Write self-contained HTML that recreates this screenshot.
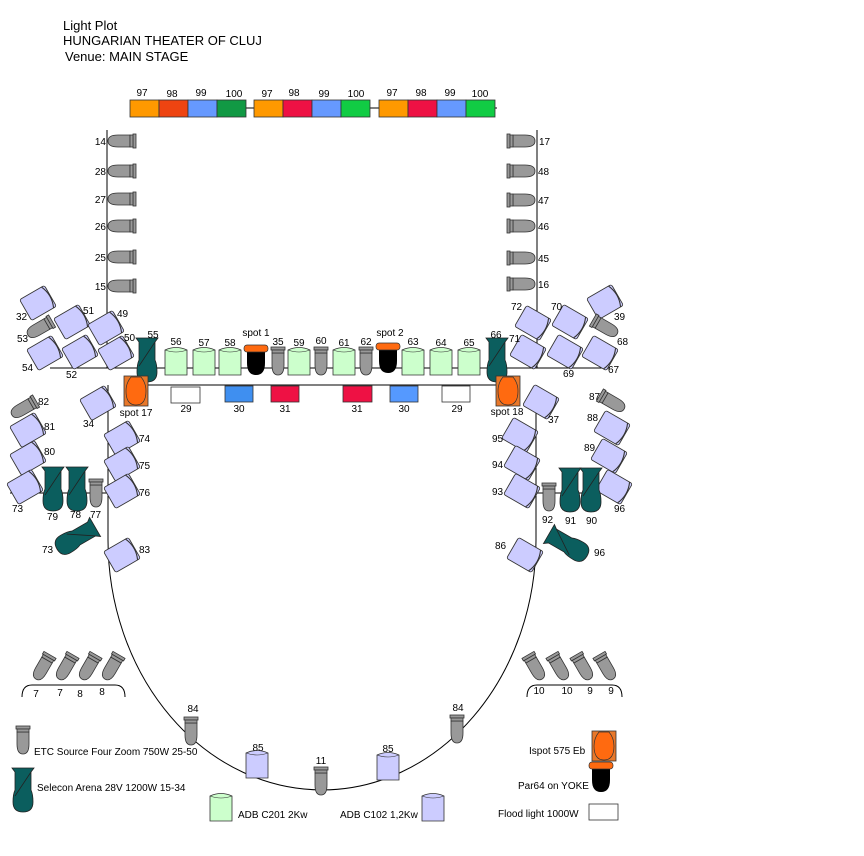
<!DOCTYPE html>
<html><head><meta charset="utf-8"><style>
html,body{margin:0;padding:0;background:#fff;width:864px;height:856px;overflow:hidden}
svg{display:block}
text{font-family:"Liberation Sans",sans-serif;font-size:10px;fill:#000}
</style></head><body>
<svg width="864" height="856" viewBox="0 0 864 856" xmlns="http://www.w3.org/2000/svg">
<defs>
<g id="s4"><path d="M-6,-8 L6,-8 L6,4 Q6,14 0,14 Q-6,14 -6,4 Z" fill="#999" stroke="#333" stroke-width="0.8"/><rect x="-7" y="-14" width="14" height="3" fill="#999" stroke="#333" stroke-width="0.8"/><rect x="-6" y="-11" width="12" height="3" fill="#999" stroke="#333" stroke-width="0.8"/></g>
<g id="arena"><path d="M-11,-22 L11,-22 L8,-18 L8,0 Q10,4 10,12 Q10,22 0,22 Q-10,22 -10,12 Q-10,4 -8,0 L-8,-18 Z" fill="#0b5e5e" stroke="#222" stroke-width="0.8"/><line x1="-8" y1="6" x2="8" y2="-18" stroke="#222" stroke-width="0.8"/></g>
<g id="grn"><path d="M-11,-11 Q0,-16 11,-11 L11,14 L-11,14 Z" fill="#ccffcc" stroke="#333" stroke-width="0.8"/><path d="M-11,-11 Q0,-7 11,-11" fill="none" stroke="#333" stroke-width="0.6"/></g>
<g id="lav"><g transform="scale(1.1)"><rect x="-13" y="-11" width="26" height="22" rx="2" fill="#ccccff" stroke="#333" stroke-width="0.8"/><path d="M10,-11 Q15,0 10,11" fill="none" stroke="#333" stroke-width="1"/></g></g>
<g id="lavc"><path d="M-11,-11 Q0,-16 11,-11 L11,14 L-11,14 Z" fill="#ccccff" stroke="#333" stroke-width="0.8"/><path d="M-11,-11 Q0,-7 11,-11" fill="none" stroke="#333" stroke-width="0.6"/></g>
<g id="spot"><rect x="-12" y="-15" width="24" height="30" fill="#e8782a" stroke="#333" stroke-width="0.8"/><path d="M-5,-14 L5,-14 Q10,-8 10,0 Q10,14 0,14 Q-10,14 -10,0 Q-10,-8 -5,-14Z" fill="#ff6a10" stroke="#333" stroke-width="0.7"/></g>
<g id="par"><path d="M-9,-6 L9,-6 L9,6 Q9,18 0,18 Q-9,18 -9,6Z" fill="#000"/><rect x="-12" y="-12" width="24" height="7" rx="3" fill="#ff6a10" stroke="#333" stroke-width="0.7"/></g>
</defs>

<text x="63" y="30" style="font-size:13px">Light Plot</text>
<text x="63" y="45" style="font-size:13px">HUNGARIAN THEATER OF CLUJ</text>
<text x="65" y="61" style="font-size:13px">Venue: MAIN STAGE</text>

<g stroke="#000" stroke-width="1" fill="none">
<line x1="130" y1="108" x2="497" y2="108"/>
<line x1="107" y1="130" x2="107" y2="368"/>
<line x1="537" y1="130" x2="537" y2="368"/>
<line x1="50" y1="368" x2="610" y2="368"/>
<line x1="140" y1="385" x2="505" y2="385"/>
<line x1="108" y1="385" x2="108" y2="540"/>
<line x1="536" y1="385" x2="536" y2="540"/>
<line x1="10" y1="493" x2="108" y2="493"/>
<line x1="536" y1="493" x2="620" y2="493"/>
<path d="M108,540 A214,250 0 0 0 536,540"/>
<path d="M22,697 Q22,685 32,685 L115,685 Q125,685 125,697"/>
<path d="M527,697 Q527,685 537,685 L612,685 Q622,685 622,697"/>
</g>

<g stroke="#333" stroke-width="0.8">
<rect x="130" y="100" width="29" height="17" fill="#ff9900"/>
<rect x="159" y="100" width="29" height="17" fill="#ee4411"/>
<rect x="188" y="100" width="29" height="17" fill="#6699ff"/>
<rect x="217" y="100" width="29" height="17" fill="#119944"/>
<rect x="254" y="100" width="29" height="17" fill="#ff9900"/>
<rect x="283" y="100" width="29" height="17" fill="#ee1144"/>
<rect x="312" y="100" width="29" height="17" fill="#6699ff"/>
<rect x="341" y="100" width="29" height="17" fill="#11cc44"/>
<rect x="379" y="100" width="29" height="17" fill="#ff9900"/>
<rect x="408" y="100" width="29" height="17" fill="#ee1144"/>
<rect x="437" y="100" width="29" height="17" fill="#6699ff"/>
<rect x="466" y="100" width="29" height="17" fill="#11cc44"/>
</g>
<g text-anchor="middle">
<text x="142" y="96">97</text><text x="172" y="97">98</text><text x="201" y="96">99</text><text x="234" y="97">100</text>
<text x="267" y="97">97</text><text x="294" y="96">98</text><text x="324" y="97">99</text><text x="356" y="97">100</text>
<text x="392" y="96">97</text><text x="421" y="96">98</text><text x="450" y="96">99</text><text x="480" y="97">100</text>
</g>

<g>
<use href="#s4" transform="translate(122,141) rotate(90)"/>
<use href="#s4" transform="translate(122,171) rotate(90)"/>
<use href="#s4" transform="translate(122,199) rotate(90)"/>
<use href="#s4" transform="translate(122,226) rotate(90)"/>
<use href="#s4" transform="translate(122,257) rotate(90)"/>
<use href="#s4" transform="translate(122,286) rotate(90)"/>
<use href="#s4" transform="translate(521,141) rotate(-90)"/>
<use href="#s4" transform="translate(521,171) rotate(-90)"/>
<use href="#s4" transform="translate(521,200) rotate(-90)"/>
<use href="#s4" transform="translate(521,226) rotate(-90)"/>
<use href="#s4" transform="translate(521,258) rotate(-90)"/>
<use href="#s4" transform="translate(521,284) rotate(-90)"/>
</g>
<g text-anchor="end">
<text x="106" y="145">14</text><text x="106" y="175">28</text><text x="106" y="203">27</text><text x="106" y="230">26</text><text x="106" y="261">25</text><text x="106" y="290">15</text>
</g>
<g>
<text x="539" y="145">17</text><text x="538" y="175">48</text><text x="538" y="204">47</text><text x="538" y="230">46</text><text x="538" y="262">45</text><text x="538" y="288">16</text>
</g>

<use href="#lav" transform="translate(38,303) rotate(-30)"/>
<use href="#lav" transform="translate(72,322) rotate(-30)"/>
<use href="#lav" transform="translate(106,328) rotate(-30)"/>
<use href="#s4" transform="translate(40,328) rotate(60)"/>
<use href="#lav" transform="translate(45,353) rotate(-30)"/>
<use href="#lav" transform="translate(80,352) rotate(-30)"/>
<use href="#lav" transform="translate(116,353) rotate(-30)"/>
<use href="#lav" transform="translate(98,403) rotate(-30)"/>
<use href="#s4" transform="translate(24,408) rotate(60)"/>
<use href="#lav" transform="translate(28,430) rotate(-30)"/>
<use href="#lav" transform="translate(28,458) rotate(-30)"/>
<use href="#lav" transform="translate(25,487) rotate(-30)"/>
<use href="#lav" transform="translate(122,438) rotate(-30)"/>
<use href="#lav" transform="translate(122,464) rotate(-30)"/>
<use href="#lav" transform="translate(122,491) rotate(-30)"/>
<use href="#lav" transform="translate(122,555) rotate(-30)"/>
<use href="#arena" transform="translate(53,489)"/>
<use href="#arena" transform="translate(77,489)"/>
<use href="#s4" transform="translate(96,493)"/>
<use href="#arena" transform="translate(76,538) rotate(60)"/>
<g>
<text x="16" y="320">32</text><text x="83" y="314">51</text><text x="117" y="317">49</text><text x="17" y="342">53</text>
<text x="22" y="371">54</text><text x="66" y="378">52</text><text x="124" y="341">50</text>
<text x="83" y="427">34</text><text x="38" y="405">82</text><text x="44" y="430">81</text><text x="44" y="455">80</text>
<text x="12" y="512">73</text><text x="139" y="442">74</text><text x="139" y="469">75</text><text x="139" y="496">76</text>
<text x="139" y="553">83</text><text x="47" y="520">79</text><text x="70" y="518">78</text><text x="90" y="518">77</text>
<text x="42" y="553">73</text>
</g>

<use href="#lav" transform="translate(533,323) rotate(30)"/>
<use href="#lav" transform="translate(570,322) rotate(30)"/>
<use href="#lav" transform="translate(605,302) rotate(-30)"/>
<use href="#s4" transform="translate(605,327) rotate(-60)"/>
<use href="#lav" transform="translate(528,352) rotate(30)"/>
<use href="#lav" transform="translate(565,352) rotate(30)"/>
<use href="#lav" transform="translate(600,353) rotate(30)"/>
<use href="#lav" transform="translate(541,402) rotate(30)"/>
<use href="#s4" transform="translate(612,402) rotate(-60)"/>
<use href="#lav" transform="translate(612,428) rotate(30)"/>
<use href="#lav" transform="translate(609,456) rotate(30)"/>
<use href="#lav" transform="translate(614,487) rotate(30)"/>
<use href="#lav" transform="translate(520,435) rotate(30)"/>
<use href="#lav" transform="translate(522,463) rotate(30)"/>
<use href="#lav" transform="translate(522,491) rotate(30)"/>
<use href="#lav" transform="translate(525,555) rotate(30)"/>
<use href="#s4" transform="translate(549,497)"/>
<use href="#arena" transform="translate(570,490)"/>
<use href="#arena" transform="translate(591,490)"/>
<use href="#arena" transform="translate(568,545) rotate(-60)"/>
<g>
<text x="511" y="310">72</text><text x="551" y="310">70</text><text x="614" y="320">39</text><text x="617" y="345">68</text>
<text x="509" y="342">71</text><text x="563" y="377">69</text><text x="608" y="373">67</text>
<text x="548" y="423">37</text><text x="589" y="400">87</text><text x="587" y="421">88</text><text x="584" y="451">89</text>
<text x="614" y="512">96</text><text x="492" y="442">95</text><text x="492" y="468">94</text><text x="492" y="495">93</text>
<text x="495" y="549">86</text><text x="542" y="523">92</text><text x="565" y="524">91</text><text x="586" y="524">90</text>
<text x="594" y="556">96</text>
</g>

<use href="#arena" transform="translate(147,360)"/>
<use href="#grn" transform="translate(176,361)"/>
<use href="#grn" transform="translate(204,361)"/>
<use href="#grn" transform="translate(230,361)"/>
<use href="#par" transform="translate(256,357)"/>
<use href="#s4" transform="translate(278,361)"/>
<use href="#grn" transform="translate(299,361)"/>
<use href="#s4" transform="translate(321,361)"/>
<use href="#grn" transform="translate(344,361)"/>
<use href="#s4" transform="translate(366,361)"/>
<use href="#par" transform="translate(388,355)"/>
<use href="#grn" transform="translate(413,361)"/>
<use href="#grn" transform="translate(441,361)"/>
<use href="#grn" transform="translate(469,361)"/>
<use href="#arena" transform="translate(497,360)"/>
<use href="#spot" transform="translate(136,391)"/>
<use href="#spot" transform="translate(508,391)"/>
<g text-anchor="middle">
<text x="153" y="338">55</text><text x="176" y="345">56</text><text x="204" y="346">57</text><text x="230" y="346">58</text>
<text x="256" y="336">spot 1</text><text x="278" y="345">35</text><text x="299" y="346">59</text><text x="321" y="344">60</text>
<text x="344" y="346">61</text><text x="366" y="345">62</text><text x="390" y="336">spot 2</text><text x="413" y="345">63</text>
<text x="441" y="346">64</text><text x="469" y="346">65</text><text x="496" y="338">66</text>
<text x="136" y="416">spot 17</text><text x="507" y="415">spot 18</text>
</g>
<g stroke="#333" stroke-width="0.8">
<rect x="171" y="387" width="29" height="16" fill="#fff"/>
<rect x="225" y="386" width="28" height="16" fill="#3f8ff0"/>
<rect x="271" y="386" width="28" height="16" fill="#ee1144"/>
<rect x="343" y="386" width="29" height="16" fill="#ee1144"/>
<rect x="390" y="386" width="28" height="16" fill="#5599ff"/>
<rect x="442" y="386" width="28" height="16" fill="#fff"/>
</g>
<g text-anchor="middle">
<text x="186" y="412">29</text><text x="239" y="412">30</text><text x="285" y="412">31</text>
<text x="357" y="412">31</text><text x="404" y="412">30</text><text x="457" y="412">29</text>
</g>

<use href="#s4" transform="translate(43,667) rotate(30)"/>
<use href="#s4" transform="translate(66,667) rotate(30)"/>
<use href="#s4" transform="translate(89,667) rotate(30)"/>
<use href="#s4" transform="translate(112,667) rotate(30)"/>
<use href="#s4" transform="translate(535,667) rotate(-30)"/>
<use href="#s4" transform="translate(559,667) rotate(-30)"/>
<use href="#s4" transform="translate(583,667) rotate(-30)"/>
<use href="#s4" transform="translate(606,667) rotate(-30)"/>
<g text-anchor="middle">
<text x="36" y="697">7</text><text x="60" y="696">7</text><text x="80" y="697">8</text><text x="102" y="695">8</text>
<text x="539" y="694">10</text><text x="567" y="694">10</text><text x="590" y="694">9</text><text x="611" y="694">9</text>
<text x="193" y="712">84</text><text x="458" y="711">84</text>
<text x="258" y="751">85</text><text x="388" y="752">85</text><text x="321" y="764">11</text>
</g>
<use href="#s4" transform="translate(191,731)"/>
<use href="#s4" transform="translate(457,729)"/>
<use href="#lavc" transform="translate(257,764)"/>
<use href="#lavc" transform="translate(388,766)"/>
<use href="#s4" transform="translate(321,781)"/>

<use href="#s4" transform="translate(23,740)"/>
<text x="34" y="755">ETC Source Four Zoom 750W 25-50</text>
<use href="#arena" transform="translate(23,790)"/>
<text x="37" y="791">Selecon Arena 28V 1200W 15-34</text>
<use href="#grn" transform="translate(221,807)"/>
<text x="238" y="818">ADB C201 2Kw</text>
<text x="340" y="818">ADB C102 1,2Kw</text>
<use href="#lavc" transform="translate(433,807)"/>
<text x="529" y="754">Ispot 575 Eb</text>
<use href="#spot" transform="translate(604,746)"/>
<text x="518" y="789">Par64 on YOKE</text>
<use href="#par" transform="translate(601,774)"/>
<text x="498" y="817">Flood light 1000W</text>
<rect x="589" y="804" width="29" height="16" fill="#fff" stroke="#333" stroke-width="0.8"/>
</svg>
</body></html>
